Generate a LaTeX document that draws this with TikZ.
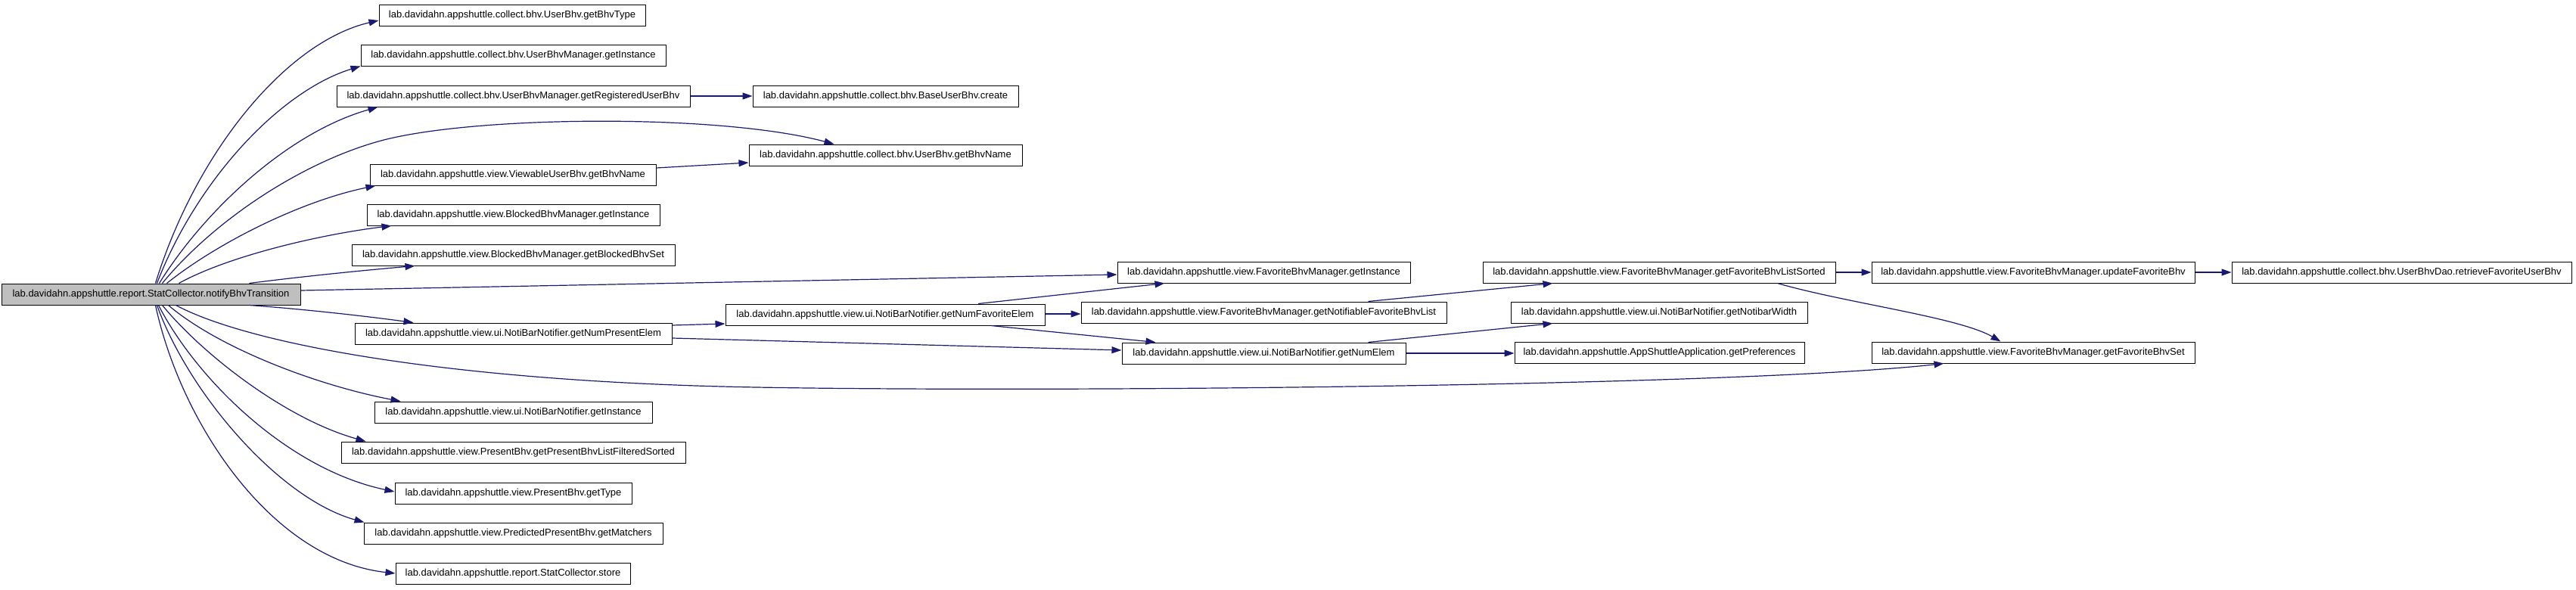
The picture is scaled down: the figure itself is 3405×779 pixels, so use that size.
\documentclass[tikz,border=0pt]{standalone}
\usepackage{fontspec}
\setmainfont{Liberation Sans}
\usetikzlibrary{arrows.meta,calc}
\definecolor{edgecol}{RGB}{25,25,112}
\definecolor{rootfill}{RGB}{191,191,191}
\begin{document}
\begin{tikzpicture}[x=1pt,y=-1pt,
  box/.style={draw=black, line width=1pt, fill=white, minimum height=28pt, inner sep=0pt, font=\fontsize{13}{15}\selectfont},
  rootbox/.style={box, fill=rootfill},
  edge/.style={draw=edgecol, line width=1.2pt, -{Triangle[length=13pt,width=9pt]}}]
\useasboundingbox[fill=white] (0,0) rectangle (3405,779);
% column 1
\node[rootbox, minimum width=395pt] (root) at (199.5,389) {lab.davidahn.appshuttle.report.StatCollector.notifyBhvTransition};
% column 2
\node[box, minimum width=352pt] (bhvtype) at (677,20) {lab.davidahn.appshuttle.collect.bhv.UserBhv.getBhvType};
\node[box, minimum width=403pt] (ubminst) at (678.5,73) {lab.davidahn.appshuttle.collect.bhv.UserBhvManager.getInstance};
\node[box, minimum width=467pt] (reguser) at (678.5,127) {lab.davidahn.appshuttle.collect.bhv.UserBhvManager.getRegisteredUserBhv};
\node[box, minimum width=378pt] (viewname) at (678,231) {lab.davidahn.appshuttle.view.ViewableUserBhv.getBhvName};
\node[box, minimum width=387pt] (blockinst) at (678.5,284) {lab.davidahn.appshuttle.view.BlockedBhvManager.getInstance};
\node[box, minimum width=427pt] (blockset) at (678.5,337) {lab.davidahn.appshuttle.view.BlockedBhvManager.getBlockedBhvSet};
\node[box, minimum width=419pt] (numpresent) at (678.5,441) {lab.davidahn.appshuttle.view.ui.NotiBarNotifier.getNumPresentElem};
\node[box, minimum width=367pt] (nbinst) at (678.5,545) {lab.davidahn.appshuttle.view.ui.NotiBarNotifier.getInstance};
\node[box, minimum width=455pt] (filtered) at (678.5,598) {lab.davidahn.appshuttle.view.PresentBhv.getPresentBhvListFilteredSorted};
\node[box, minimum width=313pt] (ptype) at (678.5,652) {lab.davidahn.appshuttle.view.PresentBhv.getType};
\node[box, minimum width=395pt] (matchers) at (678.5,705) {lab.davidahn.appshuttle.view.PredictedPresentBhv.getMatchers};
\node[box, minimum width=310pt] (store) at (678,758) {lab.davidahn.appshuttle.report.StatCollector.store};
% column 3
\node[box, minimum width=351pt] (create) at (1170.5,127) {lab.davidahn.appshuttle.collect.bhv.BaseUserBhv.create};
\node[box, minimum width=361pt] (ubname) at (1170.5,205) {lab.davidahn.appshuttle.collect.bhv.UserBhv.getBhvName};
\node[box, minimum width=422pt] (numfav) at (1170,416) {lab.davidahn.appshuttle.view.ui.NotiBarNotifier.getNumFavoriteElem};
% column 4
\node[box, minimum width=387pt] (favinst) at (1670.5,360) {lab.davidahn.appshuttle.view.FavoriteBhvManager.getInstance};
\node[box, minimum width=483pt] (notiflist) at (1670.5,413) {lab.davidahn.appshuttle.view.FavoriteBhvManager.getNotifiableFavoriteBhvList};
\node[box, minimum width=375pt] (numelem) at (1670.5,467) {lab.davidahn.appshuttle.view.ui.NotiBarNotifier.getNumElem};
% column 5
\node[box, minimum width=466pt] (favsorted) at (2193,360) {lab.davidahn.appshuttle.view.FavoriteBhvManager.getFavoriteBhvListSorted};
\node[box, minimum width=392pt] (notibarw) at (2193,413) {lab.davidahn.appshuttle.view.ui.NotiBarNotifier.getNotibarWidth};
\node[box, minimum width=383pt] (prefs) at (2193.5,466) {lab.davidahn.appshuttle.AppShuttleApplication.getPreferences};
% column 6
\node[box, minimum width=427pt] (updatefav) at (2687.5,360) {lab.davidahn.appshuttle.view.FavoriteBhvManager.updateFavoriteBhv};
\node[box, minimum width=427pt] (favset) at (2687.5,466) {lab.davidahn.appshuttle.view.FavoriteBhvManager.getFavoriteBhvSet};
% column 7
\node[box, minimum width=449pt] (retrieve) at (3174.5,360) {lab.davidahn.appshuttle.collect.bhv.UserBhvDao.retrieveFavoriteUserBhv};

% edges from root (upwards)
\draw[edge] ($(root.north west)+(204,0)$) .. controls +(54,-175) and +(-121,28) .. ($(bhvtype.west)+(0,7)$);
\draw[edge] ($(root.north west)+(206,0)$) .. controls +(52,-135) and +(-107,33) .. (ubminst.south west);
\draw[edge] ($(root.north west)+(209,0)$) .. controls +(59,-95) and +(-120,34) .. ($(reguser.south west)+(55,0)$);
\draw[edge] ($(root.north west)+(213,0)$) .. controls +(70,-85) and +(-100,28) .. (500,187) .. controls +(120,-34) and +(-153,-41) .. ($(ubname.north west)+(113,0)$);
\draw[edge] ($(root.north west)+(219,0)$) .. controls +(69,-55) and +(-97,20) .. ($(viewname.south west)+(8,0)$);
\draw[edge] ($(root.north west)+(235,0)$) .. controls +(63,-35) and +(-98,12) .. ($(blockinst.south west)+(33,0)$);
\draw[edge] ($(root.north west)+(328,0)$) .. controls +(70,-9) and +(-69,6) .. ($(blockset.south west)+(84,0)$);
\draw[edge] ($(root.east)+(0,-5)$) -- ($(favinst.west)+(0,3)$);
% edges from root (downwards)
\draw[edge] ($(root.south west)+(328,0)$) .. controls +(70,5) and +(-67,-9) .. ($(numpresent.north west)+(78,0)$);
\draw[edge] ($(root.south west)+(231,0)$) .. controls +(97,52) and +(-400,-7) .. (1000,512) .. controls +(400,7) and +(-270,30) .. ($(favset.south west)+(96,0)$);
\draw[edge] ($(root.south west)+(221,0)$) .. controls +(67,57) and +(-110,-21) .. ($(nbinst.north west)+(35,0)$);
\draw[edge] ($(root.south west)+(213,0)$) .. controls +(55,67) and +(-104,-29) .. ($(filtered.north west)+(33,0)$);
\draw[edge] ($(root.south west)+(208,0)$) .. controls +(50,97) and +(-142,-30) .. ($(ptype.west)+(0,-2)$);
\draw[edge] ($(root.south west)+(206,0)$) .. controls +(42,117) and +(-112,-31) .. ($(matchers.north west)+(1,0)$);
\draw[edge] ($(root.south west)+(204,0)$) .. controls +(34,157) and +(-163,-18) .. (store.west);
% other edges
\draw[edge] (reguser.east) -- (create.west);
\draw[edge] ($(viewname.east)+(0,-9)$) -- ($(ubname.west)+(0,10)$);
\draw[edge] ($(numpresent.east)+(0,-11)$) -- ($(numfav.west)+(0,12)$);
\draw[edge] ($(numpresent.east)+(0,6)$) -- ($(numelem.west)+(0,-4)$);
\draw[edge] ($(numfav.north)+(123,0)$) -- ($(favinst.south west)+(63,0)$);
\draw[edge] ($(numfav.east)+(0,-1)$) -- ($(numfav.east -| notiflist.west)+(0,-1)$);
\draw[edge] ($(numfav.south)+(140,0)$) -- ($(numelem.north west)+(45,0)$);
\draw[edge] ($(notiflist.north west)+(380,0)$) -- ($(favsorted.south west)+(93,0)$);
\draw[edge] ($(numelem.north west)+(326,0)$) -- ($(notibarw.south west)+(56,0)$);
\draw[edge] (numelem.east) -- (numelem.east -| prefs.west);
\draw[edge] (favsorted.east) -- (updatefav.west);
\draw[edge] (updatefav.east) -- (retrieve.west);
\draw[edge] ($(favsorted.south west)+(390,0)$) .. controls +(90,26) and +(-55,-32) .. ($(favset.north west)+(171,0)$);
\end{tikzpicture}
\end{document}
